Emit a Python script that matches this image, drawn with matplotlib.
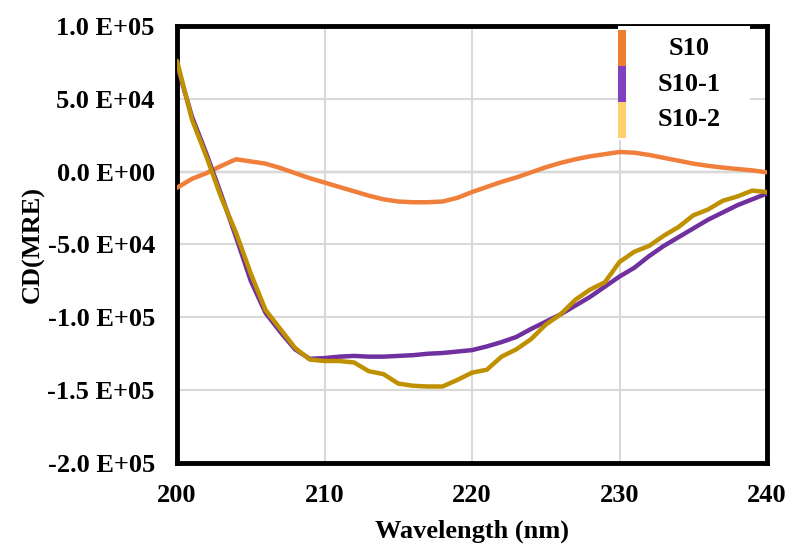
import matplotlib.pyplot as plt
from matplotlib.patches import Rectangle

# CD spectra data
wavelength = list(range(200, 241))
s10 = [-1.1e4, -5e3, -1e3, 4e3, 8.5e3, 7e3, 5.5e3, 2.5e3, -1e3, -4.5e3,
       -7.5e3, -1.05e4, -1.35e4, -1.65e4, -1.9e4, -2.05e4, -2.1e4, -2.1e4, -2.05e4, -1.8e4,
       -1.4e4, -1.05e4, -7e3, -4e3, -5e2, 3e3, 6e3, 8.5e3, 1.05e4, 1.2e4,
       1.35e4, 1.3e4, 1.15e4, 9.5e3, 7.5e3, 5.5e3, 4e3, 2.8e3, 1.8e3, 9e2, -5e2]
s10_1 = [7.3e4, 3.8e4, 1.2e4, -1.6e4, -4.5e4, -7.5e4, -9.7e4, -1.1e5, -1.22e5, -1.285e5,
         -1.28e5, -1.27e5, -1.265e5, -1.27e5, -1.27e5, -1.265e5, -1.26e5, -1.25e5, -1.245e5, -1.235e5,
         -1.225e5, -1.2e5, -1.17e5, -1.135e5, -1.08e5, -1.03e5, -9.8e4, -9.2e4, -8.6e4, -7.9e4,
         -7.2e4, -6.6e4, -5.8e4, -5.1e4, -4.5e4, -3.9e4, -3.3e4, -2.8e4, -2.3e4, -1.9e4, -1.5e4]
s10_2 = [7.6e4, 3.6e4, 1.0e4, -1.8e4, -4.2e4, -7.0e4, -9.5e4, -1.08e5, -1.21e5, -1.29e5,
         -1.30e5, -1.30e5, -1.31e5, -1.37e5, -1.39e5, -1.455e5, -1.47e5, -1.475e5, -1.475e5, -1.43e5,
         -1.38e5, -1.36e5, -1.27e5, -1.22e5, -1.15e5, -1.05e5, -9.8e4, -8.8e4, -8.1e4, -7.6e4,
         -6.2e4, -5.5e4, -5.1e4, -4.4e4, -3.8e4, -3.0e4, -2.6e4, -2.0e4, -1.7e4, -1.3e4, -1.4e4]

names = ["S10", "S10-1", "S10-2"]
line_colors = ["#F07F3C", "#7030A0", "#BF9000"]
legend_colors = ["#ED7D31", "#8040C0", "#FFD070"]

yticks = [1e5, 5e4, 0, -5e4, -1e5, -1.5e5, -2e5]
ytick_labels = ["1.0 E+05", "5.0 E+04", "0.0 E+00", "-5.0 E+04", "-1.0 E+05", "-1.5 E+05", "-2.0 E+05"]
xticks = [200, 210, 220, 230, 240]

plt.rcParams["font.family"] = "Liberation Serif"
plt.rcParams["font.weight"] = "bold"

fig = plt.figure(figsize=(7.87, 5.47), dpi=100)
ax = fig.add_axes([0.225, 0.1536, 0.7496, 0.7989])

ax.grid(True, color="#d9d9d9", linewidth=1.5, zorder=0)
ax.axhline(0, color="black", linewidth=1.5, zorder=1)

for ys, c in zip([s10, s10_1, s10_2], line_colors):
    ax.plot(wavelength, ys, color=c, linewidth=3.2, zorder=3, solid_capstyle="round")

ax.set_xlim(200, 240)
ax.set_ylim(-2e5, 1e5)
ax.set_xticks(xticks)
ax.set_yticks(yticks)
ax.set_yticklabels(ytick_labels)
ax.tick_params(axis="y", length=0, labelsize=19, pad=16)
ax.tick_params(axis="x", length=0, labelsize=19, pad=15)
for lbl in ax.get_xticklabels() + ax.get_yticklabels():
    lbl.set_fontweight("bold")

ax.set_xlabel("Wavelength (nm)", fontsize=19, fontweight="bold", labelpad=9)
ax.set_ylabel("CD(MRE)", fontsize=19, fontweight="bold", labelpad=2)

for sp in ax.spines.values():
    sp.set_linewidth(3.5)
    sp.set_color("black")

# legend box: white panel with stacked colour bars
ax.add_patch(Rectangle((0.747, 0.739), 0.224, 0.261, transform=ax.transAxes,
                       facecolor="white", edgecolor="none", zorder=4))
for i, (name, c) in enumerate(zip(names, legend_colors)):
    top = 0.99 - i * 0.082
    ax.add_patch(Rectangle((0.747, top - 0.082), 0.0136, 0.082, transform=ax.transAxes,
                           facecolor=c, edgecolor="none", zorder=5))
    ax.text(0.868, top - 0.041, name, transform=ax.transAxes, ha="center", va="center",
            fontsize=19, fontweight="bold", zorder=6)

fig.savefig("out.png", dpi=100)
